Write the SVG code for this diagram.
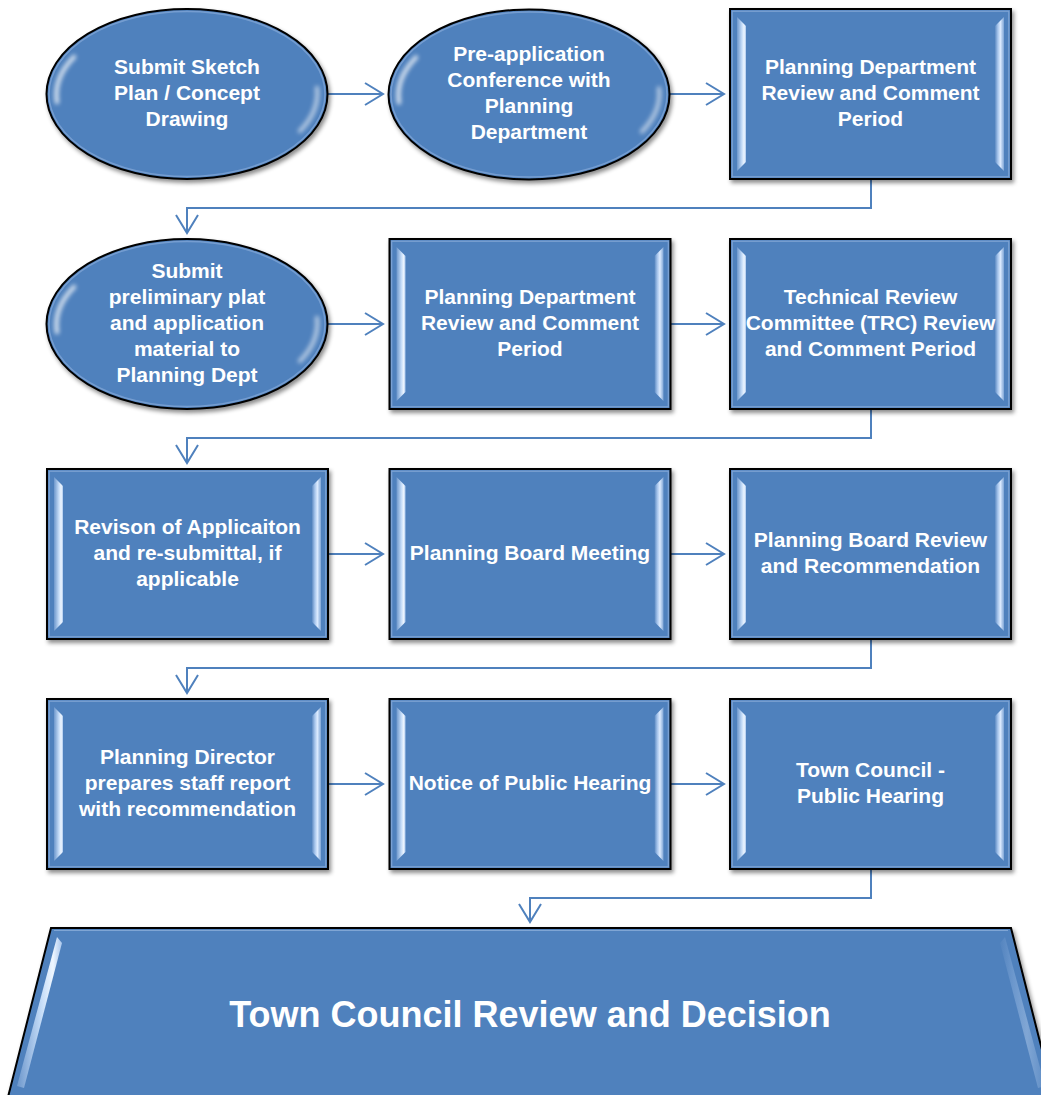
<svg xmlns="http://www.w3.org/2000/svg" xmlns:xlink="http://www.w3.org/1999/xlink" width="1041" height="1095" viewBox="0 0 1041 1095">
  <style>
    .lbl { font-family: "Liberation Sans", Arial, sans-serif; font-weight: bold; font-size: 21px; fill: #ffffff; text-anchor: middle; }
    .big { font-size: 36px; }
    .conn { fill: none; stroke: #4f81bd; stroke-width: 2; marker-end: url(#chev); }
    .body { fill: #4f81bd; stroke: #000000; stroke-width: 2; filter: url(#shadow); }
    .rim { fill: none; stroke: #9fbde4; stroke-width: 1.2; opacity: 0.6; }
    .gloss { fill: none; stroke: #ffffff; stroke-width: 4.5; stroke-linecap: round; filter: url(#soft); }
  </style>
  <defs>
    <filter id="shadow" x="-10%" y="-10%" width="125%" height="130%">
      <feDropShadow dx="2" dy="3" stdDeviation="2.2" flood-color="#000000" flood-opacity="0.45"/>
    </filter>
    <filter id="soft" x="-50%" y="-50%" width="200%" height="200%">
      <feGaussianBlur stdDeviation="2"/>
    </filter>
    <linearGradient id="bevL" x1="0" y1="0" x2="1" y2="0">
      <stop offset="0" stop-color="#6d97cc"/>
      <stop offset="0.55" stop-color="#c6ddf8"/>
      <stop offset="0.8" stop-color="#eef6ff"/>
      <stop offset="1" stop-color="#a9c6ec"/>
    </linearGradient>
    <linearGradient id="bevR" x1="0" y1="0" x2="1" y2="0">
      <stop offset="0" stop-color="#5d8ac2"/>
      <stop offset="0.3" stop-color="#a3c2ea"/>
      <stop offset="0.6" stop-color="#dcebff"/>
      <stop offset="1" stop-color="#7ea5d6"/>
    </linearGradient>
    <marker id="chev" markerUnits="userSpaceOnUse" markerWidth="22" markerHeight="26" refX="19" refY="12" orient="auto">
      <path d="M1,1 L19,12 L1,23" fill="none" stroke="#4f81bd" stroke-width="2"/>
    </marker>
    <!-- bevelled process box, 281 x 170 -->
    <g id="box">
      <rect class="body" x="0" y="0" width="281" height="170"/>
      <rect class="rim" x="2.2" y="2.2" width="276.6" height="165.6"/>
      <polygon points="7,8 16,17 16,153 7,162" fill="url(#bevL)"/>
      <polygon points="274,8 265,17 265,153 274,162" fill="url(#bevR)"/>
    </g>
    <!-- glossy oval, centred on the origin -->
    <g id="oval">
      <ellipse class="body" cx="0" cy="0" rx="140.5" ry="85"/>
      <ellipse cx="0" cy="0" rx="138" ry="82.5" fill="none" stroke="#8fb1dd" stroke-width="1.5" opacity="0.6"/>
      <path class="gloss" d="M-130,8 A130,76 0 0 1 -113,-37" opacity="0.75"/>
      <path class="gloss" d="M130,-6 A130,76 0 0 1 113,37" opacity="0.55"/>
    </g>
  </defs>

  <rect width="1041" height="1095" fill="#ffffff"/>

  <!-- connectors -->
  <g id="connectors">
    <path class="conn" d="M327,94 H383"/>
    <path class="conn" d="M670,94 H724"/>
    <path class="conn" d="M871,179 V208 H187 V233"/>
    <path class="conn" d="M327,324 H383"/>
    <path class="conn" d="M670,324 H724"/>
    <path class="conn" d="M871,409 V438 H187 V463"/>
    <path class="conn" d="M327,554 H383"/>
    <path class="conn" d="M670,554 H724"/>
    <path class="conn" d="M871,639 V668 H187 V693"/>
    <path class="conn" d="M327,784 H383"/>
    <path class="conn" d="M670,784 H724"/>
    <path class="conn" d="M871,869 V898 H530 V922"/>
  </g>

  <!-- row 1 -->
  <g id="sketch-plan">
    <use href="#oval" x="187" y="94"/>
    <text class="lbl"><tspan x="187" y="74">Submit Sketch</tspan><tspan x="187" y="100">Plan / Concept</tspan><tspan x="187" y="126">Drawing</tspan></text>
  </g>
  <g id="pre-application">
    <use href="#oval" x="529" y="94.5"/>
    <text class="lbl"><tspan x="529" y="61">Pre-application</tspan><tspan x="529" y="87">Conference with</tspan><tspan x="529" y="113">Planning</tspan><tspan x="529" y="139">Department</tspan></text>
  </g>
  <g id="dept-review-1">
    <use href="#box" x="730" y="9"/>
    <text class="lbl"><tspan x="870.5" y="74">Planning Department</tspan><tspan x="870.5" y="100">Review and Comment</tspan><tspan x="870.5" y="126">Period</tspan></text>
  </g>

  <!-- row 2 -->
  <g id="preliminary-plat">
    <use href="#oval" x="187" y="324"/>
    <text class="lbl"><tspan x="187" y="278">Submit</tspan><tspan x="187" y="304">preliminary plat</tspan><tspan x="187" y="330">and application</tspan><tspan x="187" y="356">material to</tspan><tspan x="187" y="382">Planning Dept</tspan></text>
  </g>
  <g id="dept-review-2">
    <use href="#box" x="389.5" y="239"/>
    <text class="lbl"><tspan x="530" y="304">Planning Department</tspan><tspan x="530" y="330">Review and Comment</tspan><tspan x="530" y="356">Period</tspan></text>
  </g>
  <g id="trc-review">
    <use href="#box" x="730" y="239"/>
    <text class="lbl"><tspan x="870.5" y="304">Technical Review</tspan><tspan x="870.5" y="330">Committee (TRC) Review</tspan><tspan x="870.5" y="356">and Comment Period</tspan></text>
  </g>

  <!-- row 3 -->
  <g id="revision">
    <use href="#box" x="47" y="469"/>
    <text class="lbl"><tspan x="187.5" y="534">Revison of Applicaiton</tspan><tspan x="187.5" y="560">and re-submittal, if</tspan><tspan x="187.5" y="586">applicable</tspan></text>
  </g>
  <g id="board-meeting">
    <use href="#box" x="389.5" y="469"/>
    <text class="lbl"><tspan x="530" y="560">Planning Board Meeting</tspan></text>
  </g>
  <g id="board-review">
    <use href="#box" x="730" y="469"/>
    <text class="lbl"><tspan x="870.5" y="547">Planning Board Review</tspan><tspan x="870.5" y="573">and Recommendation</tspan></text>
  </g>

  <!-- row 4 -->
  <g id="staff-report">
    <use href="#box" x="47" y="699"/>
    <text class="lbl"><tspan x="187.5" y="764">Planning Director</tspan><tspan x="187.5" y="790">prepares staff report</tspan><tspan x="187.5" y="816">with recommendation</tspan></text>
  </g>
  <g id="hearing-notice">
    <use href="#box" x="389.5" y="699"/>
    <text class="lbl"><tspan x="530" y="790">Notice of Public Hearing</tspan></text>
  </g>
  <g id="public-hearing">
    <use href="#box" x="730" y="699"/>
    <text class="lbl"><tspan x="870.5" y="777">Town Council -</tspan><tspan x="870.5" y="803">Public Hearing</tspan></text>
  </g>

  <!-- final decision -->
  <g id="decision">
    <polygon class="body" points="51,928 1011,928 1055,1101 7,1101"/>
    <line x1="54" y1="930.5" x2="1008" y2="930.5" stroke="#9fbde4" stroke-width="1.2" opacity="0.6"/>
    <polygon points="57,937 62,943 24,1088 17,1086" fill="url(#bevL)"/>
    <polygon points="1005,937 1000,943 1038,1088 1045,1086" fill="url(#bevR)" opacity="0.35"/>
    <text class="lbl big" x="530" y="1027">Town Council Review and Decision</text>
  </g>
</svg>
